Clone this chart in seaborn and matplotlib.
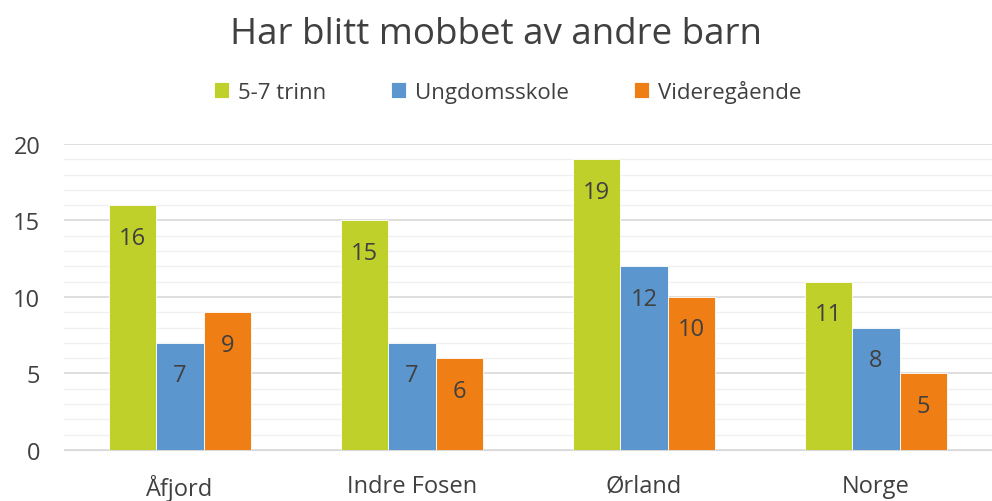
import pandas as pd
import matplotlib.pyplot as plt
import seaborn as sns

# Data
steder = ['Åfjord', 'Indre Fosen', 'Ørland', 'Norge']
trinn_5_7 = [16, 15, 19, 11]
ungdomsskole = [7, 7, 12, 8]
videregaende = [9, 6, 10, 5]
serier = ['5-7 trinn', 'Ungdomsskole', 'Videregående']
farger = ['#BFD02A', '#5B96CF', '#EF7E14']

df = pd.DataFrame({
    'Sted': steder * 3,
    'Gruppe': [serier[0]] * 4 + [serier[1]] * 4 + [serier[2]] * 4,
    'Andel': trinn_5_7 + ungdomsskole + videregaende,
})

sns.set_style('white')
plt.rcParams['font.family'] = ['Open Sans', 'DejaVu Sans']
tekst = '#404040'

fig = plt.figure(figsize=(9.92, 5.02), dpi=100)
ax = fig.add_axes([0.0645, 0.1016, 0.9355, 0.6096])

sns.barplot(data=df, x='Sted', y='Andel', hue='Gruppe', palette=farger,
            width=0.61, saturation=1, ax=ax, zorder=3, edgecolor='white', linewidth=0.6)

ax.set_ylim(0, 20)
ax.set_xlim(-0.5, 3.5)
ax.set_yticks(range(0, 21, 5))
ax.set_yticks(range(0, 21), minor=True)
ax.grid(axis='y', which='major', color='#d9d9d9', linewidth=1.2, zorder=0)
ax.grid(axis='y', which='minor', color='#f0f0f0', linewidth=1.0, zorder=0)
ax.set_axisbelow(True)
for s in ['top', 'right', 'left']:
    ax.spines[s].set_visible(False)
ax.spines['bottom'].set_color('#d9d9d9')
ax.tick_params(axis='both', which='both', length=0, labelsize=17, colors=tekst)
ax.tick_params(axis='x', pad=17)
ax.tick_params(axis='y', pad=17)
ax.set_xlabel('')
ax.set_ylabel('')

# Value labels inside the top of each bar
for cont in ax.containers:
    ax.bar_label(cont, label_type='edge', padding=-32, fontsize=17, color=tekst)

ax.legend(loc='center', bbox_to_anchor=(0.478, 1.172), ncol=3, frameon=False,
          fontsize=16, labelcolor=tekst, handlelength=0.7, handleheight=0.7,
          columnspacing=2.9, handletextpad=0.4)

fig.text(0.5, 0.93, 'Har blitt mobbet av andre barn', ha='center', va='center',
         fontsize=26.5, color=tekst)

plt.savefig('out.png', dpi=100)
